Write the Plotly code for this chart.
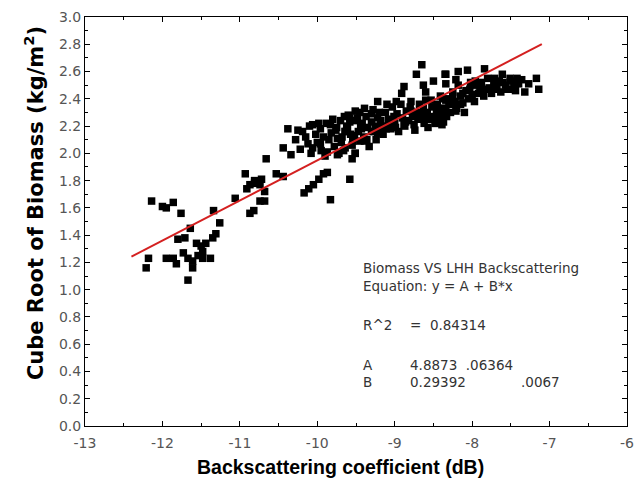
import plotly.graph_objects as go

# Scatter data (backscattering coefficient dB, cube root of biomass)
x_pts = [
    -12.14, -12.00, -11.95, -11.86, -11.76, -11.64, -11.34, -11.26, -11.31, -11.35,
    -11.44, -11.56, -11.71, -11.80, -12.18, -12.21, -11.95, -11.86, -11.82, -11.73,
    -11.67, -11.61, -11.61, -11.54, -11.48, -11.48, -11.38, -11.50, -11.67, -11.06,
    -10.93, -10.91, -10.87, -10.81, -10.87, -10.74, -10.74,
    -10.66, -10.44, -10.34, -10.38, -10.19, -10.06, -9.96, -9.83, -10.12, -10.06,
    -9.96, -9.87, -9.74, -9.74, -9.58, -9.64, -9.54, -9.51, -10.53, -10.44,
    -10.72, -10.81, -10.68, -10.68, -10.82, -10.17, -10.11, -10.05, -9.98, -9.92,
    -9.87, -9.58, -9.83,
    -8.65, -8.72, -8.88, -8.91, -8.63, -8.60, -8.50, -8.35, -8.34, -9.22,
    -9.10, -8.98, -8.79, -8.53, -8.41, -8.29, -9.51, -9.39, -9.30, -9.58,
    -9.48, -9.22, -9.01, -8.79, -8.63, -8.46, -8.34, -9.13, -8.88, -8.63,
    -8.41, -9.64, -9.43, -9.30, -9.54, -9.39, -9.22, -9.11, -9.64, -9.51,
    -9.45, -9.55,
    -8.18, -8.06, -7.84, -7.61, -8.34, -8.21, -7.96, -7.71, -7.51, -7.36,
    -7.17, -7.14, -7.32, -7.46, -7.55, -7.70, -7.83, -7.90, -8.03, -8.12,
    -8.25, -8.34, -8.37, -8.25, -8.15, -8.34, -8.21, -8.37, -7.65, -7.40,
    -7.27,
    -9.92, -9.88, -9.82, -9.78, -9.75, -9.70, -9.68, -9.66, -9.62, -9.60,
    -9.57, -9.55, -9.50, -9.47, -9.45, -9.42, -9.40, -9.37, -9.35, -9.33,
    -9.30, -9.28, -9.25, -9.24, -9.20, -9.18, -9.15, -9.12, -9.08, -9.05,
    -9.03, -9.00, -8.97, -8.95, -8.92, -8.90, -8.87, -8.85, -8.82, -8.80,
    -8.77, -8.75, -8.72, -8.70, -8.68, -8.65, -8.62, -8.60, -8.58, -8.55,
    -8.52, -8.50, -8.48, -8.45, -8.43, -8.40, -8.38, -8.36, -8.33, -8.30,
    -8.28, -8.25, -8.22, -8.20, -8.18, -8.15, -8.12, -8.10, -8.08, -8.05,
    -8.02, -8.00, -7.97, -7.95, -7.92, -7.88, -7.85, -7.80, -7.78, -7.75,
    -7.72, -7.68, -7.63, -7.60, -7.57, -7.53, -7.48, -7.44, -7.42,
    -10.28, -10.25, -10.22, -10.15, -10.10, -10.08, -10.02, -10.00, -9.98, -9.95,
    -9.90, -9.85, -9.80, -9.72, -9.65,
    -9.76, -9.69, -9.61, -9.52, -9.44, -9.36, -9.27, -9.19, -9.07, -8.99,
    -8.86, -8.74, -8.57, -8.47, -8.39,
]
y_pts = [
    1.65, 1.61, 1.60, 1.64, 1.56, 1.45, 1.58, 1.49, 1.41, 1.38,
    1.34, 1.34, 1.38, 1.37, 1.23, 1.16, 1.23, 1.23, 1.19, 1.27,
    1.23, 1.21, 1.16, 1.25, 1.28, 1.23, 1.23, 1.32, 1.07, 1.67,
    1.85, 1.74, 1.77, 1.80, 1.56, 1.77, 1.65,
    1.96, 2.04, 1.99, 2.18, 2.16, 2.21, 2.18, 2.21, 2.07, 2.04,
    2.07, 2.01, 2.11, 1.99, 2.26, 2.16, 2.09, 2.00, 1.85, 1.83,
    1.81, 1.78, 1.72, 1.65, 1.58, 1.71, 1.74, 1.77, 1.81, 1.85,
    1.86, 1.81, 1.66,
    2.65, 2.58, 2.49, 2.44, 2.50, 2.45, 2.53, 2.58, 2.51, 2.38,
    2.36, 2.38, 2.38, 2.39, 2.42, 2.40, 2.31, 2.33, 2.29, 2.23,
    2.26, 2.26, 2.27, 2.31, 2.33, 2.31, 2.32, 2.20, 2.21, 2.25,
    2.27, 2.16, 2.18, 2.16, 2.11, 2.09, 2.15, 2.18, 2.04, 2.00,
    2.09, 1.96,
    2.60, 2.61, 2.62, 2.58, 2.58, 2.54, 2.53, 2.55, 2.55, 2.54,
    2.55, 2.47, 2.45, 2.50, 2.47, 2.47, 2.47, 2.47, 2.47, 2.44,
    2.42, 2.39, 2.33, 2.36, 2.36, 2.29, 2.31, 2.23, 2.53, 2.51,
    2.51,
    2.12, 2.22, 2.15, 2.05, 2.19, 2.24, 2.12, 2.02, 2.20, 2.28,
    2.14, 2.06, 2.24, 2.16, 2.30, 2.22, 2.12, 2.27, 2.19, 2.05,
    2.23, 2.32, 2.20, 2.10, 2.30, 2.24, 2.14, 2.30, 2.25, 2.18,
    2.34, 2.22, 2.29, 2.16, 2.36, 2.26, 2.20, 2.31, 2.24, 2.34,
    2.27, 2.21, 2.30, 2.25, 2.36, 2.28, 2.22, 2.39, 2.30, 2.25,
    2.34, 2.27, 2.22, 2.36, 2.30, 2.25, 2.40, 2.33, 2.27, 2.36,
    2.30, 2.45, 2.38, 2.33, 2.50, 2.42, 2.37, 2.30, 2.46, 2.40,
    2.52, 2.43, 2.38, 2.50, 2.44, 2.52, 2.42, 2.55, 2.48, 2.44,
    2.52, 2.49, 2.45, 2.52, 2.50, 2.47, 2.53, 2.46, 2.55,
    2.10, 2.17, 2.03, 2.12, 2.20, 2.00, 2.14, 2.08, 2.22, 2.02,
    1.98, 2.10, 2.25, 2.00, 2.27,
    2.17, 2.08, 2.18, 2.13, 2.20, 2.10, 2.16, 2.19, 2.22, 2.19,
    2.23, 2.17, 2.19, 2.22, 2.21,
]

# Linear fit: y = A + B*x
fit_A = 4.8873
fit_B = 0.29392
fit_x = [-12.4, -7.1]
fit_y = [fit_A + fit_B * v for v in fit_x]

x_ticks = [-13, -12, -11, -10, -9, -8, -7, -6]
y_ticks = [0.0, 0.2, 0.4, 0.6, 0.8, 1.0, 1.2, 1.4, 1.6, 1.8, 2.0, 2.2, 2.4, 2.6, 2.8, 3.0]

fig = go.Figure()
fig.add_trace(go.Scatter(
    x=x_pts, y=y_pts, mode="markers",
    marker=dict(symbol="square", size=7.5, color="black", line=dict(width=0)),
    showlegend=False,
))
fig.add_trace(go.Scatter(
    x=fit_x, y=fit_y, mode="lines",
    line=dict(color="#d42020", width=2), showlegend=False,
))

tick_font = dict(family="DejaVu Sans, sans-serif", size=14, color="#555555")

fig.update_xaxes(
    range=[-13, -6], tickvals=x_ticks, ticktext=[str(v) for v in x_ticks],
    ticks="inside", ticklen=5, tickwidth=1, tickcolor="black",
    minor=dict(dtick=0.5, ticks="inside", ticklen=3, tickcolor="black"),
    showline=True, linecolor="black", linewidth=1, mirror="allticks",
    showgrid=False, zeroline=False, tickfont=tick_font, ticklabelstandoff=4,
)
fig.update_yaxes(
    range=[0, 3.0], tickvals=y_ticks, ticktext=[f"{v:.1f}" for v in y_ticks],
    ticks="inside", ticklen=5, tickwidth=1, tickcolor="black",
    minor=dict(dtick=0.1, ticks="inside", ticklen=3, tickcolor="black"),
    showline=True, linecolor="black", linewidth=1, mirror="allticks",
    showgrid=False, zeroline=False, tickfont=tick_font,
)

# Axis titles (placed as annotations to match the original offsets)
fig.add_annotation(
    x=-9.70, xref="x", y=0, yref="paper", yshift=-41, yanchor="middle", xanchor="center",
    text="<b>Backscattering coefficient (dB)</b>", showarrow=False,
    font=dict(family="Liberation Sans, Arial, sans-serif", size=19.5, color="black"),
)
fig.add_annotation(
    x=0, xref="paper", xshift=-51, y=1.635, yref="y", xanchor="center", yanchor="middle",
    text="<b>Cube Root of Biomass (kg/m<sup>2</sup>)</b>", showarrow=False, textangle=-90,
    font=dict(family="DejaVu Sans, sans-serif", size=21, color="black"),
)

ann_font = dict(family="DejaVu Sans, sans-serif", size=13.5, color="#333333")
ann = [
    (-9.44, 1.157, "Biomass VS LHH Backscattering"),
    (-9.44, 1.026, "Equation: y = A + B*x"),
    (-9.44, 0.74, "R^2"),
    (-8.83, 0.74, "=  0.84314"),
    (-9.44, 0.45, "A"),
    (-8.83, 0.45, "4.8873  .06364"),
    (-9.44, 0.32, "B"),
    (-8.83, 0.32, "0.29392"),
    (-7.40, 0.32, ".0067"),
]
for ax_, ay_, t in ann:
    fig.add_annotation(x=ax_, y=ay_, text=t, showarrow=False, xanchor="left",
                       yanchor="middle", font=ann_font)

fig.update_layout(
    width=643, height=483,
    margin=dict(l=85, r=9, t=15, b=57),
    plot_bgcolor="white", paper_bgcolor="white",
)
fig.write_html("out.html")
